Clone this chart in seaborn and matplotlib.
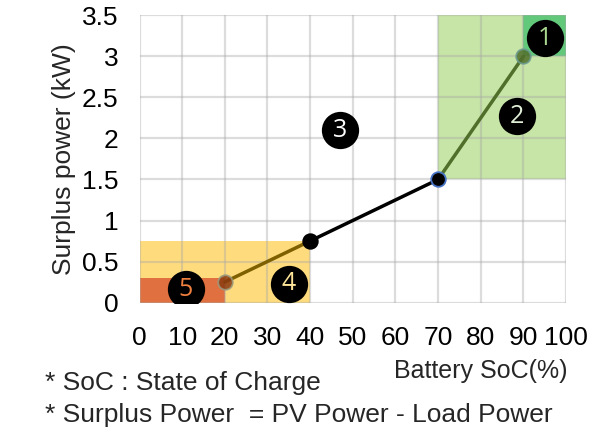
import matplotlib
matplotlib.use("Agg")
import matplotlib.pyplot as plt
import seaborn as sns
import pandas as pd
from matplotlib.patches import Rectangle

sns.set_theme(style="white")
plt.rcParams['font.family'] = ['Liberation Sans', 'DejaVu Sans']

# ---- data ----
soc = [20, 40, 70, 90]
power = [0.25, 0.75, 1.5, 3.0]
segment_colors = ["#7f6000", "#000000", "#4f6f2a"]
marker_faces = ["#8a3a10", "#000000", "#000000", "#4f6f2a"]
marker_edges = ["#9a9a80", "#000000", "#4472c4", "#6a9a90"]

# regions: (x0, x1, y0, y1, color)
region_x0 = [70, 90, 0, 0]
region_x1 = [100, 100, 40, 20]
region_y0 = [1.5, 3.0, 0, 0]
region_y1 = [3.5, 3.5, 0.75, 0.3]
region_colors = ["#c7e5a6", "#62c97b", "#fedc7e", "#e0703f"]

label_nums = ["1", "2", "3", "4", "5"]
label_x = [95, 88.5, 47, 35, 10.8]
label_y = [3.22, 2.27, 2.1, 0.23, 0.16]
label_colors = ["#a9d88e", "#e2f0d9", "#ffffff", "#ffe699", "#f08040"]

xticks = [0, 10, 20, 30, 40, 50, 60, 70, 80, 90, 100]
yticks = [0, 0.5, 1, 1.5, 2, 2.5, 3, 3.5]
ytick_labels = ["0", "0.5", "1", "1.5", "2", "2.5", "3", "3.5"]

fig = plt.figure(figsize=(6.1, 4.32), dpi=100)
ax = fig.add_axes([139.5 / 610, (432 - 302.5) / 432, (566 - 139.5) / 610, (302.5 - 15.5) / 432])

for x0, x1, y0, y1, c in zip(region_x0, region_x1, region_y0, region_y1, region_colors):
    ax.add_patch(Rectangle((x0, y0), x1 - x0, y1 - y0, facecolor=c, edgecolor="none", zorder=0.5))

ax.set_axisbelow(False)
ax.grid(True, color="#a8a8a8", alpha=0.4, linewidth=1.6, zorder=1)

df = pd.DataFrame({"soc": soc, "power": power})
for i in range(len(soc) - 1):
    seg = df.iloc[i:i + 2]
    sns.lineplot(data=seg, x="soc", y="power", color=segment_colors[i], linewidth=2.5, ax=ax, zorder=3)

for i in range(len(soc)):
    sns.scatterplot(x=[soc[i]], y=[power[i]], ax=ax, s=110, color=marker_faces[i],
                    edgecolor=marker_edges[i], linewidth=1.3, alpha=0.85 if i in (0, 3) else 1.0, zorder=4)

for n, x, y, c in zip(label_nums, label_x, label_y, label_colors):
    ax.scatter([x], [y], s=720, color="black", zorder=5, linewidths=0)
    ax.text(x, y, n, color=c, fontsize=18, ha="center", va="center", zorder=6,
            family=["Open Sans", "DejaVu Sans"])

ax.set_xlim(0, 100)
ax.set_ylim(0, 3.5)
ax.set_xticks(xticks)
ax.set_xticklabels([str(t) for t in xticks])
ax.set_yticks(yticks)
ax.set_yticklabels(ytick_labels)
ax.tick_params(axis="both", length=0, labelsize=19, colors="black")
ax.tick_params(axis="x", pad=17)
ax.tick_params(axis="y", pad=15)
for s in ax.spines.values():
    s.set_visible(False)
ax.set_xlabel("")
ax.set_ylabel("Surplus power (kW)", fontsize=19, labelpad=4)

fig.text(568 / 610, 1 - 371 / 432, "Battery SoC(%)", fontsize=18, ha="right", va="center")
fig.text(45 / 610, 1 - 383 / 432, "* SoC : State of Charge", fontsize=19, ha="left", va="center")
fig.text(45 / 610, 1 - 415 / 432, "* Surplus Power  = PV Power - Load Power", fontsize=19, ha="left", va="center")

fig.savefig("out.png", dpi=100)
